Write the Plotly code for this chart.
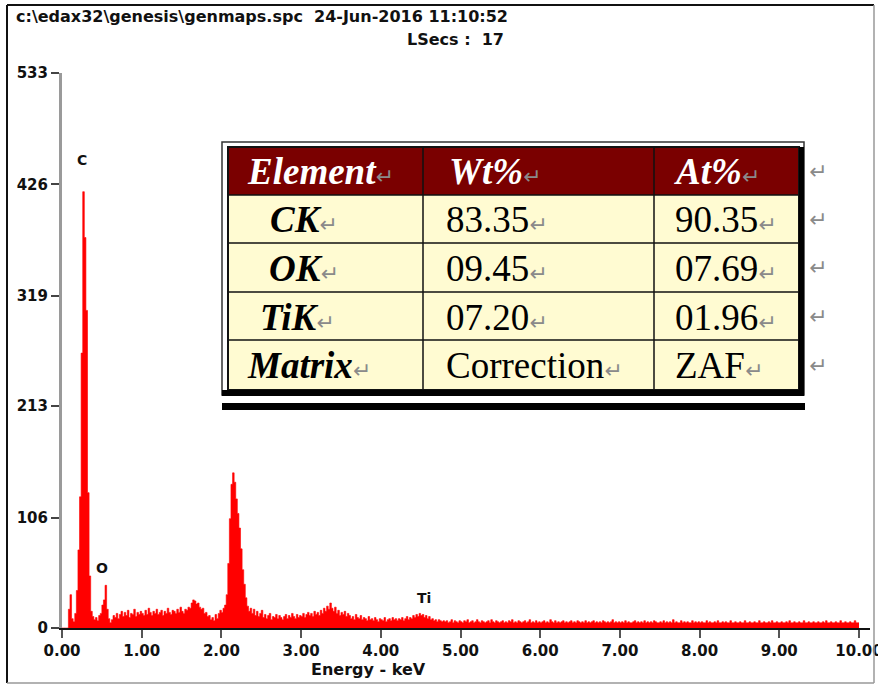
import plotly.graph_objects as go

# ---------------- data ----------------
channel_keV = 0.02
counts_0_to_5 = [
    # 0.00 - 0.38
    0, 0, 0, 0, 18, 32, 9, 6, 14, 36, 75, 126, 264, 419, 375, 305, 130, 50, 16, 11,
    # 0.40 - 0.58
    8, 10, 7, 12, 14, 22, 27, 41, 18, 9,
    # 0.60 - 0.98
    5, 8, 12, 10, 14, 9, 13, 16, 11, 15, 12, 17, 10, 14, 13, 18, 11, 15, 13, 16,
    # 1.00 - 1.48
    14, 12, 17, 13, 19, 15, 12, 16, 14, 18, 13, 15, 17, 12, 16, 14, 19, 15, 13, 17, 16, 14, 18, 15, 20,
    # 1.50 - 1.98
    16, 14, 18, 17, 20, 19, 24, 27, 26, 23, 24, 20, 18, 19, 14, 15, 11, 12, 8, 10, 7, 13, 9, 14, 17,
    # 2.00 - 2.38
    15, 19, 22, 32, 62, 105, 138, 149, 140, 124, 110, 96, 76, 56, 42, 29, 21, 16, 19, 14,
    # 2.40 - 2.98
    18, 12, 16, 11, 14, 17, 10, 13, 9, 12, 14, 8, 11, 10, 13, 9, 12, 10, 8, 11, 13, 9, 12, 10, 14, 11, 9, 13, 10, 12,
    # 3.00 - 3.58
    11, 14, 10, 13, 15, 12, 14, 11, 16, 13, 15, 12, 17, 14, 19, 16, 21, 18, 24, 19, 16, 20, 14, 17, 12, 15, 13, 16, 11, 14,
    # 3.60 - 4.18
    12, 9, 11, 8, 13, 10, 9, 12, 8, 10, 9, 7, 11, 8, 9, 7, 10, 8, 6, 9, 8, 7, 10, 6, 8, 9, 7, 10, 8, 9,
    # 4.20 - 4.78
    7, 9, 8, 10, 7, 9, 11, 8, 10, 9, 12, 10, 13, 11, 14, 12, 13, 10, 12, 9, 11, 8, 9, 7, 8, 6, 8, 7, 6, 7,
    # 4.80 - 4.98
    6, 7, 5, 6, 8, 5, 7, 6, 5, 7,
]
counts_5_to_10 = [
    6, 5, 7, 6, 8, 5, 6, 7, 5, 6, 8, 6, 5, 7, 6, 5, 6, 7, 5, 8, 6, 5, 7, 6, 5,
    6, 7, 5, 6, 5, 7, 6, 8, 5, 6, 5, 7, 6, 5, 6, 7, 5, 6, 8, 5, 6, 5, 7, 5, 6,
    5, 6, 7, 5, 6, 5, 8, 6, 5, 7, 5, 6, 5, 6, 7, 5, 6, 5, 6, 7, 5, 6, 5, 7, 6,
    5, 6, 5, 7, 5, 6, 5, 6, 7, 5, 6, 5, 6, 5, 7, 6, 5, 6, 5, 6, 8, 5, 6, 5, 6,
    5, 6, 5, 7, 5, 6, 5, 5, 6, 7, 5, 6, 5, 6, 5, 7, 5, 6, 5, 6, 5, 7, 6, 5, 5,
    6, 5, 7, 5, 6, 5, 6, 5, 8, 5, 6, 5, 5, 7, 5, 6, 5, 6, 5, 5, 7, 5, 6, 5, 6,
    5, 6, 5, 5, 7, 5, 6, 5, 5, 6, 5, 7, 5, 5, 6, 5, 6, 5, 5, 7, 5, 5, 6, 5, 5,
    6, 5, 5, 7, 5, 5, 6, 5, 5, 6, 5, 5, 7, 5, 5, 6, 5, 5, 6, 5, 7, 5, 5, 6, 5,
    5, 6, 5, 5, 6, 5, 7, 5, 5, 6, 5, 5, 6, 5, 5, 7, 5, 5, 6, 5, 5, 6, 5, 5, 6,
    5, 5, 6, 5, 7, 5, 5, 6, 5, 5, 6, 5, 5, 7, 5, 5, 6, 5, 5, 6, 5, 5, 7, 5, 5,
]

y_ticks = [0, 106, 213, 319, 426, 533]
x_ticks = [0, 1, 2, 3, 4, 5, 6, 7, 8, 9, 10]
x_tick_labels = ["0.00", "1.00", "2.00", "3.00", "4.00", "5.00", "6.00", "7.00", "8.00", "9.00", "10.00"]

peak_labels = ["C", "O", "Ti"]
peak_label_keV = [0.25, 0.50, 4.54]
peak_label_counts = [449, 58, 29]

header_line1 = "c:\\edax32\\genesis\\genmaps.spc\u00a0\u00a024-Jun-2016 11:10:52"
header_line2 = "LSecs :\u00a0\u00a017"
x_title = "Energy - keV"

table_header = ["Element", "Wt%", "At%"]
table_element = ["CK", "OK", "TiK", "Matrix"]
table_wt = ["83.35", "09.45", "07.20", "Correction"]
table_at = ["90.35", "07.69", "01.96", "ZAF"]

# ---------------- layout geometry ----------------
W, H = 878, 685
ML, MR, MT, MB = 62, 8, 73, 57
PW = W - ML - MR
PH = H - MT - MB


def px(x):
    return (x - ML) / PW


def py(y):
    return (H - MB - y) / PH


energy = [round(i * channel_keV, 2) for i in range(len(counts_0_to_5) + len(counts_5_to_10))]
counts = counts_0_to_5 + counts_5_to_10

fig = go.Figure()
fig.add_trace(go.Scatter(
    x=energy + [round(len(energy) * channel_keV, 2)],
    y=counts + [counts[-1]],
    mode="lines",
    line=dict(color="#ff0000", width=0.6, shape="hv"),
    fill="tozeroy",
    fillcolor="#ff0000",
    hoverinfo="skip",
    showlegend=False,
))

bold = dict(family="DejaVu Sans", weight="bold", color="#111111")

shapes = []
annotations = []

# outer frame
shapes.append(dict(type="line", xref="paper", yref="paper", x0=px(7), x1=px(874), y0=py(5), y1=py(5),
                   line=dict(color="#111111", width=2)))
shapes.append(dict(type="line", xref="paper", yref="paper", x0=px(7), x1=px(7), y0=py(5), y1=py(683),
                   line=dict(color="#111111", width=2)))
shapes.append(dict(type="line", xref="paper", yref="paper", x0=px(7), x1=px(874), y0=py(683), y1=py(683),
                   line=dict(color="#999999", width=1.5)))
shapes.append(dict(type="line", xref="paper", yref="paper", x0=px(874), x1=px(874), y0=py(5), y1=py(683),
                   line=dict(color="#999999", width=1.5)))

# table geometry
col_edges = [228, 423, 654, 799]
row_edges = [147, 195, 243, 292, 340, 390]


def rect(x0, y0, x1, y1, fill=None, line_color=None, lw=0):
    d = dict(type="rect", xref="paper", yref="paper", x0=px(x0), x1=px(x1), y0=py(y1), y1=py(y0),
             layer="above")
    if fill:
        d["fillcolor"] = fill
    if line_color:
        d["line"] = dict(color=line_color, width=lw)
    else:
        d["line"] = dict(width=0)
    return d


shapes.append(rect(222, 142, 804, 395, fill="white", line_color="#333333", lw=1.5))
shapes.append(rect(col_edges[0], row_edges[0], col_edges[-1], row_edges[1], fill="#7a0000"))
shapes.append(rect(col_edges[0], row_edges[1], col_edges[-1], row_edges[-1], fill="#fffbd2"))
for cx in col_edges[1:-1]:
    shapes.append(dict(type="line", xref="paper", yref="paper", x0=px(cx), x1=px(cx),
                       y0=py(row_edges[0]), y1=py(row_edges[-1]), layer="above",
                       line=dict(color="#111111", width=1.5)))
for ry in row_edges[1:-1]:
    shapes.append(dict(type="line", xref="paper", yref="paper", x0=px(col_edges[0]), x1=px(col_edges[-1]),
                       y0=py(ry), y1=py(ry), layer="above",
                       line=dict(color="#111111", width=1.5)))
shapes.append(rect(col_edges[0], row_edges[0], col_edges[-1], row_edges[-1], line_color="#111111", lw=2))
shapes.append(rect(799, 147, 804, 396, fill="#000000"))
shapes.append(rect(222, 390, 804, 396, fill="#000000"))
shapes.append(rect(222, 403, 805, 410, fill="#000000"))

# table text
mark = "<span style='font-family:DejaVu Sans;font-size:22px;color:#8a8a8a'>\u21b5</span>"
serif = dict(family="Liberation Serif", size=37, color="#000000")
col_indent = [[17, 40, 39, 30, 17], [24, 21, 21, 21, 21], [18, 19, 19, 19, 19]]
columns = [
    [table_header[0]] + table_element,
    [table_header[1]] + table_wt,
    [table_header[2]] + table_at,
]
for ci, col in enumerate(columns):
    for ri, txt in enumerate(col):
        is_header = ri == 0
        styled = txt
        if is_header or ci == 0:
            styled = "<b><i>" + styled + "</i></b>"
        color = "#ffffff" if is_header else "#000000"
        yc = (row_edges[ri] + row_edges[ri + 1]) / 2
        annotations.append(dict(
            xref="paper", yref="paper", x=px(col_edges[ci] + col_indent[ci][ri]), y=py(yc + 1),
            xanchor="left", yanchor="middle", showarrow=False,
            text=styled + mark, font=dict(serif, color=color),
        ))
for ri in range(len(row_edges) - 1):
    yc = (row_edges[ri] + row_edges[ri + 1]) / 2
    annotations.append(dict(xref="paper", yref="paper", x=px(807), y=py(yc), xanchor="left", yanchor="middle",
                            showarrow=False, text=mark, font=dict(size=22)))

# header text
annotations.append(dict(xref="paper", yref="paper", x=px(14), y=py(17), xanchor="left", yanchor="middle",
                        showarrow=False, text=header_line1, font=dict(bold, size=16)))
annotations.append(dict(xref="paper", yref="paper", x=px(455), y=py(40), xanchor="center", yanchor="middle",
                        showarrow=False, text=header_line2, font=dict(bold, size=16)))
annotations.append(dict(xref="paper", yref="paper", x=px(368), y=py(669), xanchor="center", yanchor="middle",
                        showarrow=False, text=x_title, font=dict(bold, size=16)))

for name, e, c in zip(peak_labels, peak_label_keV, peak_label_counts):
    annotations.append(dict(xref="x", yref="y", x=e, y=c, xanchor="center", yanchor="middle",
                            showarrow=False, text=name, font=dict(bold, size=14)))

fig.update_layout(
    width=W, height=H,
    margin=dict(l=ML, r=MR, t=MT, b=MB, pad=0, autoexpand=False),
    paper_bgcolor="white", plot_bgcolor="white",
    showlegend=False,
    shapes=shapes,
    annotations=annotations,
    xaxis=dict(
        range=[0, PW / 79.7], tickvals=x_ticks, ticktext=x_tick_labels,
        showgrid=False, zeroline=False, showline=True, linecolor="#111111", linewidth=2,
        ticks="outside", ticklen=8, tickcolor="#555555", tickwidth=2,
        tickfont=dict(bold, size=15), fixedrange=True, ticklabeloverflow="allow",
        automargin=False,
    ),
    yaxis=dict(
        range=[0, 533], tickvals=y_ticks, ticktext=[str(v) for v in y_ticks],
        showgrid=False, zeroline=False, showline=True, linecolor="#9a9a9a", linewidth=3,
        ticks="outside", ticklen=8, tickcolor="#444444", tickwidth=1.5,
        tickfont=dict(bold, size=15), fixedrange=True, automargin=False,
    ),
)

fig.write_html("out.html")
